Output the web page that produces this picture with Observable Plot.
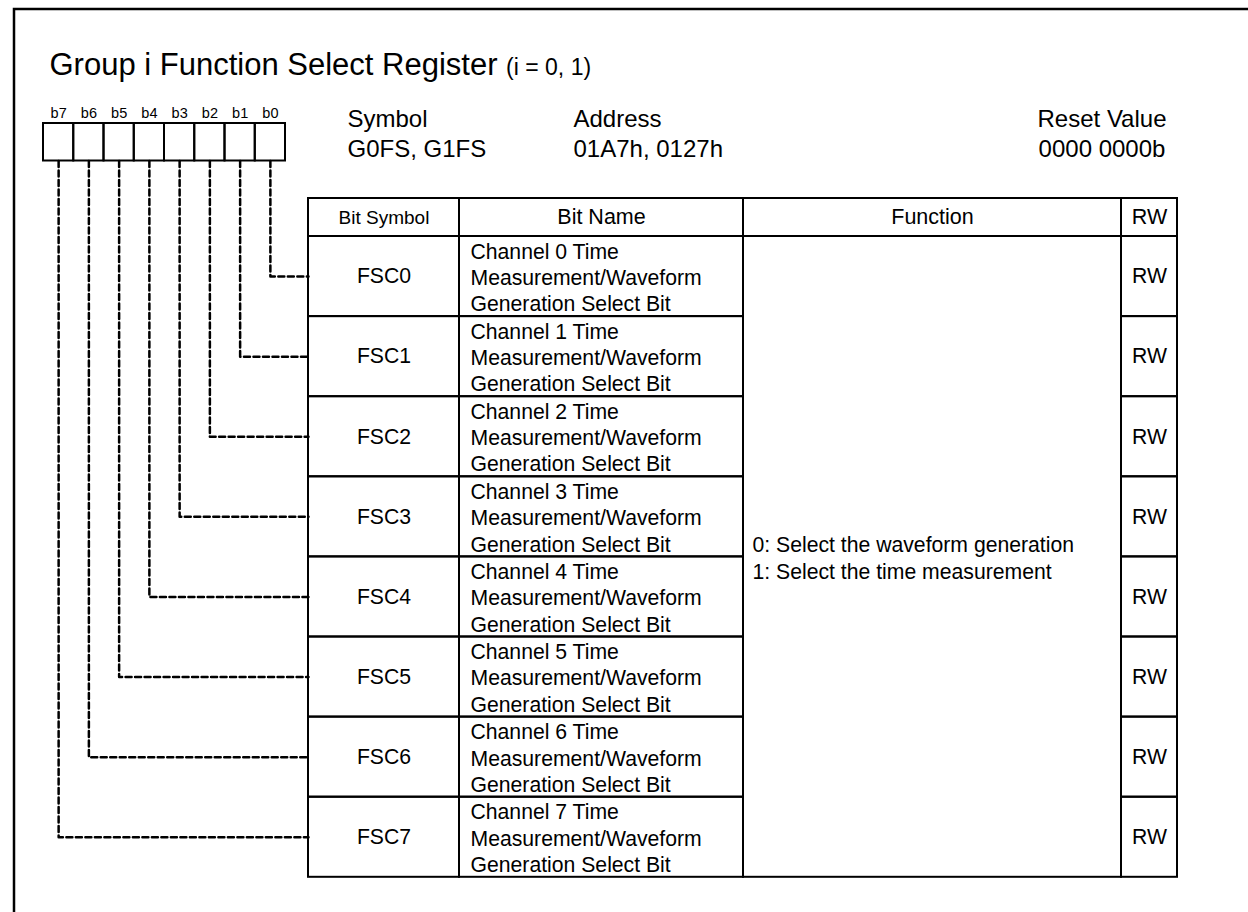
<!DOCTYPE html>
<html>
<head>
<meta charset="utf-8">
<script src="https://cdn.jsdelivr.net/npm/d3@7"></script>
<script src="https://cdn.jsdelivr.net/npm/@observablehq/plot@0.6"></script>
<style>
  html, body { margin: 0; padding: 0; background: #fff; }
  #chart svg { display: block; }
</style>
</head>
<body>
<div id="chart"></div>
<script>
// ---------- data ----------
const titleText = "Group i Function Select Register";
const titleNote = "(i = 0, 1)";
const bitLabels = ["b7", "b6", "b5", "b4", "b3", "b2", "b1", "b0"];
const infoLabels = ["Symbol", "Address", "Reset Value"];
const infoValues = ["G0FS, G1FS", "01A7h, 0127h", "0000 0000b"];
const headers = ["Bit Symbol", "Bit Name", "Function", "RW"];
const bitSymbols = ["FSC0", "FSC1", "FSC2", "FSC3", "FSC4", "FSC5", "FSC6", "FSC7"];
const bitNames = [
  "Channel 0 Time\nMeasurement/Waveform\nGeneration Select Bit",
  "Channel 1 Time\nMeasurement/Waveform\nGeneration Select Bit",
  "Channel 2 Time\nMeasurement/Waveform\nGeneration Select Bit",
  "Channel 3 Time\nMeasurement/Waveform\nGeneration Select Bit",
  "Channel 4 Time\nMeasurement/Waveform\nGeneration Select Bit",
  "Channel 5 Time\nMeasurement/Waveform\nGeneration Select Bit",
  "Channel 6 Time\nMeasurement/Waveform\nGeneration Select Bit",
  "Channel 7 Time\nMeasurement/Waveform\nGeneration Select Bit"
];
const functionLines = ["0: Select the waveform generation", "1: Select the time measurement"];
const rwValues = ["RW", "RW", "RW", "RW", "RW", "RW", "RW", "RW"];

// ---------- layout ----------
const W = 1248, H = 912;
const FONT = "'Liberation Sans', Arial, Helvetica, sans-serif";
const L = {
  frame: {x1: 14, y1: 9, x2: 1270, y2: 940},
  titleX: 49, titleBase: 74.5, titleSize: 31, noteSize: 23,
  boxX: 43, boxW: 30.25, boxY1: 123, boxY2: 160.5,
  bitLabelY: 112.5, bitLabelSize: 14.5,
  infoX: [347, 573, 1101.5],
  infoY1: 117, infoY2: 147, infoSize: 24,
  cols: [308, 459, 743, 1121, 1177],
  headY1: 198, headY2: 236, rowH: 80.1,
  headSize: [19, 21.5, 21.5, 21.5],
  cellSize: 21.2, lineH: 1.24,
  nameX: 470, funcX: 752, funcLineH: 1.3
};
const tableBottom = L.headY2 + bitSymbols.length * L.rowH;
const rowTop = (r) => L.headY2 + r * L.rowH;
const rowMid = (r) => L.headY2 + (r + 0.5) * L.rowH;

// measure the title so the note follows it
const ctx = document.createElement("canvas").getContext("2d");
ctx.font = `${L.titleSize}px 'Liberation Sans'`;
const titleWidth = ctx.measureText(titleText + " ").width;

// derived tables for marks
const boxes = bitLabels.map((label, i) => ({
  label,
  x1: L.boxX + i * L.boxW, x2: L.boxX + (i + 1) * L.boxW,
  cx: L.boxX + (i + 0.5) * L.boxW
}));
const connectors = boxes.flatMap((b, i) => {
  const bit = bitLabels.length - 1 - i;
  return [
    {bit, x: b.cx, y: L.boxY2},
    {bit, x: b.cx, y: rowMid(bit)},
    {bit, x: L.cols[0], y: rowMid(bit)}
  ];
});
const headerCells = headers.map((h, c) => ({
  text: h, x1: L.cols[c], x2: L.cols[c + 1], y1: L.headY1, y2: L.headY2,
  size: L.headSize[c]
}));
const bodyCells = bitSymbols.flatMap((s, r) => [0, 1, 3].map((c) => ({
  x1: L.cols[c], x2: L.cols[c + 1], y1: rowTop(r), y2: rowTop(r + 1)
})));
bodyCells.push({x1: L.cols[2], x2: L.cols[3], y1: L.headY2, y2: tableBottom});
const info = infoLabels.map((label, i) => ({
  text: label + "\n" + infoValues[i], x: L.infoX[i]
}));

const stroke = {stroke: "black", fill: "none", strokeWidth: 2};
const infoOpts = {x: "x", y: (L.infoY1 + L.infoY2) / 2, text: "text",
  lineHeight: (L.infoY2 - L.infoY1) / L.infoSize, fontSize: L.infoSize, fill: "black"};

const chart = Plot.plot({
  width: W, height: H, margin: 0,
  x: {type: "identity", axis: null},
  y: {type: "identity", axis: null},
  style: {fontFamily: FONT, color: "black", background: "white", overflow: "hidden"},
  marks: [
    // outer frame
    Plot.rect([L.frame], {x1: "x1", y1: "y1", x2: "x2", y2: "y2", stroke: "black", fill: "none", strokeWidth: 2.5}),
    // title
    Plot.text([titleText], {x: L.titleX, y: L.titleBase, text: (d) => d, textAnchor: "start", lineAnchor: "bottom", fontSize: L.titleSize, fill: "black"}),
    Plot.text([titleNote], {x: L.titleX + titleWidth, y: L.titleBase, text: (d) => d, textAnchor: "start", lineAnchor: "bottom", fontSize: L.noteSize, fill: "black"}),
    // bit boxes
    Plot.rect(boxes, {x1: "x1", x2: "x2", y1: L.boxY1, y2: L.boxY2, ...stroke}),
    Plot.text(boxes, {x: "cx", y: L.bitLabelY, text: "label", fontSize: L.bitLabelSize, fill: "black"}),
    // dashed connectors
    Plot.line(connectors, {x: "x", y: "y", z: "bit", stroke: "black", strokeWidth: 2.5, strokeDasharray: "6,3.5", curve: "linear"}),
    // register info
    Plot.text(info.slice(0, 2), {...infoOpts, textAnchor: "start"}),
    Plot.text(info.slice(2), {...infoOpts, textAnchor: "middle"}),
    // table
    Plot.rect(headerCells, {x1: "x1", x2: "x2", y1: "y1", y2: "y2", ...stroke}),
    Plot.rect(bodyCells, {x1: "x1", x2: "x2", y1: "y1", y2: "y2", ...stroke}),
    Plot.text(headerCells, {x: (d) => (d.x1 + d.x2) / 2, y: (d) => (d.y1 + d.y2) / 2, text: "text", fontSize: (d) => d.size, fill: "black"}),
    Plot.text(bitSymbols, {x: (L.cols[0] + L.cols[1]) / 2, y: (d, i) => rowMid(i), text: (d) => d, fontSize: L.cellSize, fill: "black"}),
    Plot.text(bitNames, {x: L.nameX, y: (d, i) => rowMid(i), text: (d) => d, textAnchor: "start", lineHeight: L.lineH, fontSize: L.cellSize, fill: "black"}),
    Plot.text([functionLines.join("\n")], {x: L.funcX, y: (L.headY2 + tableBottom) / 2, text: (d) => d, textAnchor: "start", lineHeight: L.funcLineH, fontSize: L.cellSize, fill: "black"}),
    Plot.text(rwValues, {x: (L.cols[3] + L.cols[4]) / 2, y: (d, i) => rowMid(i), text: (d) => d, fontSize: L.cellSize, fill: "black"})
  ]
});
document.getElementById("chart").appendChild(chart);
</script>
</body>
</html>
